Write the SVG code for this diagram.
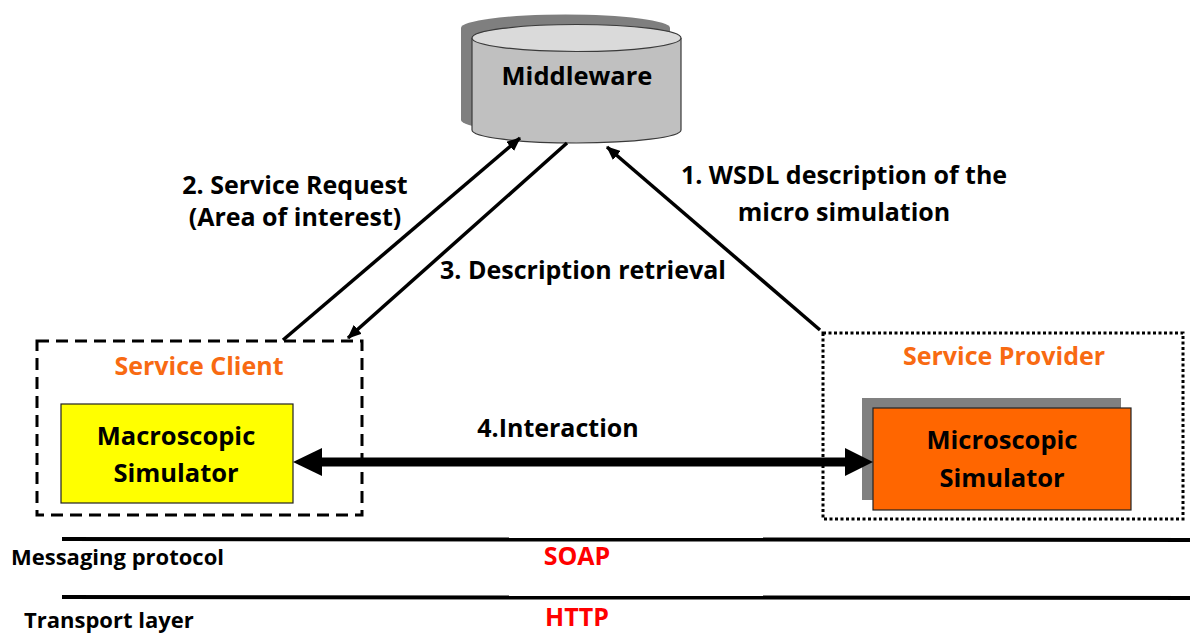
<svg xmlns="http://www.w3.org/2000/svg" width="1190" height="635" viewBox="0 0 1190 635">
  <defs>
    <style>
      .lbl { font-family: "Open Sans", "Liberation Sans", sans-serif; font-weight: bold; fill: #000; }
      .role { font-family: "Open Sans", "Liberation Sans", sans-serif; font-weight: bold; fill: #f86a12; font-size: 25px; }
      .proto { font-family: "Open Sans", "Liberation Sans", sans-serif; font-weight: bold; fill: #ff0000; font-size: 25px; }
      .layer { fill: none; stroke: #000; stroke-width: 4; }
      .flow { fill: none; stroke: #000; stroke-width: 3.5; marker-end: url(#head); }
    </style>
    <marker id="head" viewBox="0 0 14 12" refX="13" refY="6" markerUnits="userSpaceOnUse" markerWidth="14" markerHeight="12" orient="auto">
      <path d="M0,0 L14,6 L0,12 z" fill="#000"/>
    </marker>
  </defs>

  <rect width="1190" height="635" fill="#fff"/>

  <!-- Middleware datastore (cylinder with offset shadow) -->
  <g id="middleware">
    <path d="M461,28 A104.5,13.5 0 0 1 670,28 L670,120 A104.5,13 0 0 1 461,120 Z" fill="#7f7f7f"/>
    <path d="M472,38 L472,130 A104.5,13 0 0 0 681,130 L681,38" fill="#c0c0c0" stroke="#3a3a3a" stroke-width="1.2"/>
    <ellipse cx="576.5" cy="38" rx="104.5" ry="13.5" fill="#dadada" stroke="#3a3a3a" stroke-width="1.2"/>
    <text class="lbl" x="577" y="85" font-size="25.5" text-anchor="middle">Middleware</text>
  </g>

  <!-- Service client frame with macroscopic simulator -->
  <g id="service-client">
    <rect x="37" y="341" width="325" height="174" fill="none" stroke="#000" stroke-width="3" stroke-dasharray="12 7"/>
    <text class="role" x="199" y="375" text-anchor="middle">Service Client</text>
  </g>
  <g id="macroscopic-simulator">
    <rect x="61" y="404" width="232" height="99" fill="#ffff00" stroke="#222" stroke-width="1.2"/>
    <text class="lbl" font-size="25.5" text-anchor="middle"><tspan x="176" y="445">Macroscopic</tspan><tspan x="176" y="482">Simulator</tspan></text>
  </g>

  <!-- Service provider frame with microscopic simulator -->
  <g id="service-provider">
    <rect x="823" y="333" width="360" height="186" fill="none" stroke="#000" stroke-width="3" stroke-dasharray="3 2.5"/>
    <text class="role" x="1004" y="365" text-anchor="middle">Service Provider</text>
  </g>
  <g id="microscopic-simulator">
    <rect x="862" y="398" width="259" height="102" fill="#808080"/>
    <rect x="873" y="408" width="258" height="102" fill="#ff6600" stroke="#222" stroke-width="1.2"/>
    <text class="lbl" font-size="25.5" text-anchor="middle"><tspan x="1002" y="449">Microscopic</tspan><tspan x="1002" y="487">Simulator</tspan></text>
  </g>

  <!-- Connectors -->
  <g id="connectors">
    <line class="flow" x1="820" y1="330" x2="607" y2="147"/>
    <line class="flow" x1="283" y1="340" x2="520" y2="138"/>
    <line class="flow" x1="567" y1="143" x2="348" y2="338"/>
    <line x1="320" y1="462" x2="847" y2="462" stroke="#000" stroke-width="9"/>
    <polygon points="293,462 322,448 322,476" fill="#000"/>
    <polygon points="873,462 845,448 845,476" fill="#000"/>
  </g>

  <!-- Connector labels -->
  <g id="connector-labels">
    <text class="lbl" font-size="25" text-anchor="middle"><tspan x="844" y="184">1. WSDL description of the</tspan><tspan x="844" y="221">micro simulation</tspan></text>
    <text class="lbl" font-size="25" text-anchor="middle"><tspan x="295" y="194">2. Service Request</tspan><tspan x="295" y="226">(Area of interest)</tspan></text>
    <text class="lbl" font-size="25" text-anchor="middle" x="583" y="279">3. Description retrieval</text>
    <text class="lbl" font-size="25" text-anchor="middle" x="558" y="437">4.Interaction</text>
  </g>

  <!-- Protocol stack layers -->
  <g id="protocol-layers">
    <line class="layer" x1="62" y1="539" x2="1190" y2="540"/>
    <line class="layer" x1="62" y1="597" x2="1190" y2="598"/>
    <text class="lbl" font-size="22" x="11" y="565">Messaging protocol</text>
    <text class="lbl" font-size="22" x="24" y="628">Transport layer</text>
    <text class="proto" x="577" y="565" text-anchor="middle">SOAP</text>
    <text class="proto" x="577" y="626" text-anchor="middle">HTTP</text>
  </g>
</svg>
